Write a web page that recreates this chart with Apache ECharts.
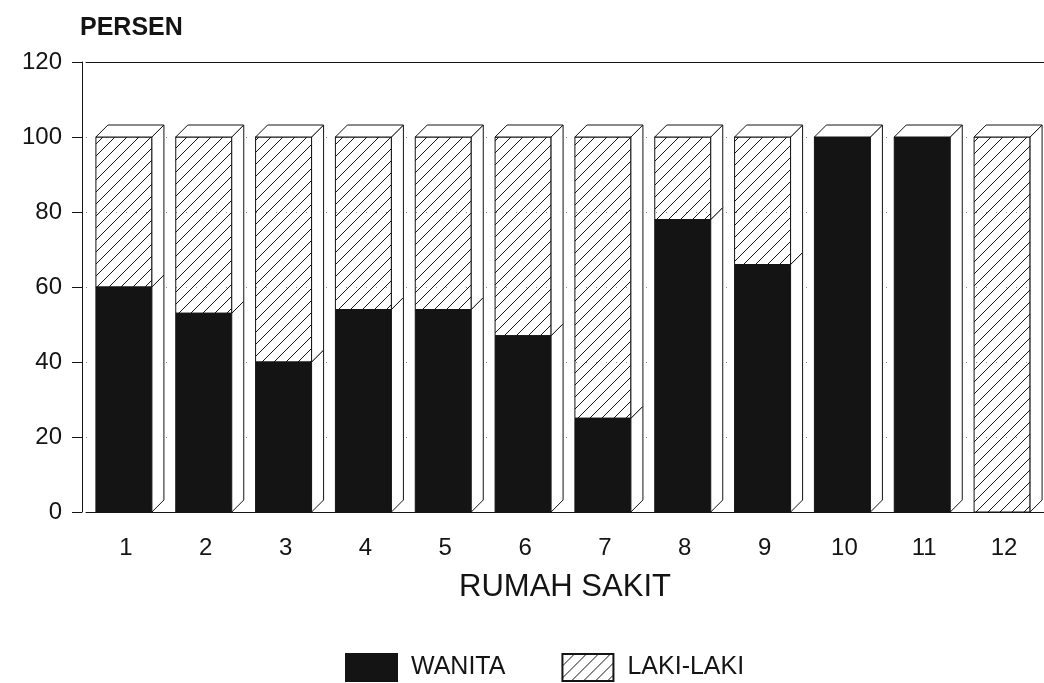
<!DOCTYPE html>
<html>
<head>
<meta charset="UTF-8">
<title>Persen per Rumah Sakit</title>
<script src="https://cdn.jsdelivr.net/npm/echarts@6/dist/echarts.min.js"></script>
<style>
  html, body { margin: 0; padding: 0; background: #fff; }
  #chart { width: 1044px; height: 683px; }
</style>
</head>
<body>
<div id="chart"></div>
<script>
// data
const categories = ['1', '2', '3', '4', '5', '6', '7', '8', '9', '10', '11', '12'];
const wanita = [60, 53, 40, 54, 54, 47, 25, 78, 66, 100, 100, 0];
const lakiLaki = [40, 47, 60, 46, 46, 53, 75, 22, 34, 0, 0, 100];
const yTicks = { min: 0, max: 120, interval: 20 };

const INK = '#141414';
const FONT = '"Liberation Sans", Arial, sans-serif';

// diagonal hatch for LAKI-LAKI
function hatchPattern() {
  const s = 12;
  const c = document.createElement('canvas');
  c.width = s; c.height = s;
  const ctx = c.getContext('2d');
  ctx.strokeStyle = INK;
  ctx.lineWidth = 1;
  ctx.beginPath();
  ctx.moveTo(0, s); ctx.lineTo(s, 0);
  ctx.moveTo(-2, 2); ctx.lineTo(2, -2);
  ctx.moveTo(s - 2, s + 2); ctx.lineTo(s + 2, s - 2);
  ctx.stroke();
  return { image: c, repeat: 'repeat' };
}
const hatch = hatchPattern();

// 3d-ish box segment: front face, right side, top when it is the top of the stack
function boxRenderer(fill, withTop) {
  return function (params, api) {
    const cat = api.value(0), lo = api.value(1), hi = api.value(2);
    const pLo = api.coord([cat, lo]);
    const pHi = api.coord([cat, hi]);
    const bw = 56, dx = 12, dy = 12;
    const x0 = pLo[0] - bw / 2 - 2, x1 = x0 + bw;
    const yb = pLo[1], yt = pHi[1];
    const line = { stroke: INK, lineWidth: 1 };
    const kids = [];
    if (hi - lo > 0) {
      kids.push({
        type: 'rect',
        shape: { x: x0, y: yt, width: bw, height: yb - yt },
        style: Object.assign({ fill: fill }, line)
      });
      kids.push({
        type: 'polygon',
        shape: { points: [[x1, yb], [x1 + dx, yb - dy], [x1 + dx, yt - dy], [x1, yt]] },
        style: Object.assign({ fill: '#fff' }, line)
      });
    }
    if (withTop) {
      kids.push({
        type: 'polygon',
        shape: { points: [[x0, yt], [x0 + dx, yt - dy], [x1 + dx, yt - dy], [x1, yt]] },
        style: Object.assign({ fill: '#fff' }, line)
      });
    }
    return { type: 'group', children: kids };
  };
}

const wanitaData = wanita.map((v, i) => [i, 0, v]);
const lakiData = lakiLaki.map((v, i) => [i, wanita[i], wanita[i] + v]);

const chart = echarts.init(document.getElementById('chart'));

chart.setOption({
  animation: false,
  textStyle: { fontFamily: FONT, color: INK },
  title: {
    text: 'PERSEN',
    left: 75,
    top: 11,
    textStyle: { fontFamily: FONT, fontSize: 25, fontWeight: 'bold', color: INK }
  },
  grid: { left: 86, right: -7, top: 62, bottom: 171 },
  legend: {
    left: 340,
    top: 648,
    itemWidth: 51,
    itemHeight: 27,
    itemGap: 56,
    icon: 'rect',
    textStyle: { fontFamily: FONT, fontSize: 25, color: INK, padding: [2, 0, 0, 9] },
    data: ['WANITA', 'LAKI-LAKI']
  },
  xAxis: [{
    type: 'category',
    data: categories,
    boundaryGap: true,
    axisLine: { lineStyle: { color: INK, width: 1 } },
    axisTick: { alignWithLabel: true, length: 8, lineStyle: { color: INK } },
    axisLabel: { fontSize: 24, color: INK, margin: 24, fontFamily: FONT },
    name: 'RUMAH SAKIT',
    nameLocation: 'middle',
    nameGap: 60,
    nameTextStyle: { fontSize: 31, color: INK, fontFamily: FONT }
  }, {
    type: 'category',
    data: categories,
    position: 'top',
    axisLine: { lineStyle: { color: INK, width: 1 } },
    axisTick: { show: false },
    axisLabel: { show: false }
  }],
  yAxis: {
    type: 'value',
    min: yTicks.min,
    max: yTicks.max,
    interval: yTicks.interval,
    offset: 4,
    axisLine: { show: true, lineStyle: { color: INK, width: 1 } },
    axisTick: { show: true, length: 10, lineStyle: { color: INK } },
    axisLabel: { fontSize: 24, color: INK, margin: 20, fontFamily: FONT },
    splitLine: { show: true, lineStyle: { color: '#888', type: [1, 9], width: 1 } }
  },
  series: [{
    name: 'WANITA',
    type: 'custom',
    renderItem: boxRenderer(INK, false),
    itemStyle: { color: INK, borderColor: INK, borderWidth: 1 },
    encode: { x: 0, y: [1, 2] },
    data: wanitaData,
    clip: false,
    z: 3
  }, {
    name: 'LAKI-LAKI',
    type: 'custom',
    renderItem: boxRenderer(hatch, true),
    itemStyle: { color: hatch, borderColor: INK, borderWidth: 1 },
    encode: { x: 0, y: [1, 2] },
    data: lakiData,
    clip: false,
    z: 3
  }]
});
</script>
</body>
</html>
